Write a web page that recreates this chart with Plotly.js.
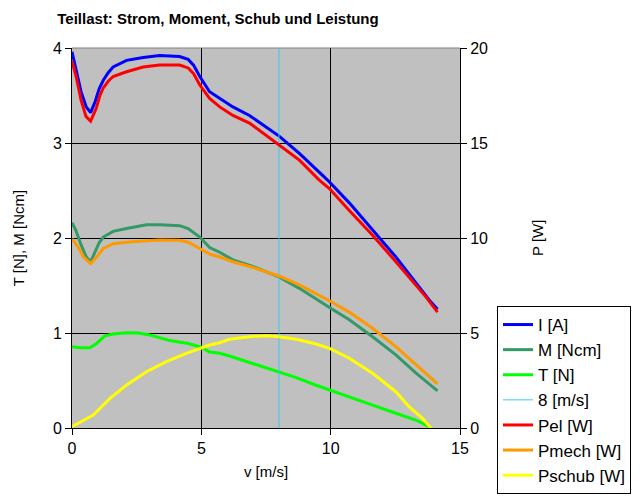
<!DOCTYPE html>
<html>
<head>
<meta charset="utf-8">
<script src="https://cdn.plot.ly/plotly-3.0.1.min.js"></script>
<style>html,body{margin:0;padding:0;background:#fff;}#chart{width:640px;height:498px;}</style>
</head>
<body>
<div id="chart"></div>
<script>
// I [A] (left axis)
const vI = [0, 0.15, 0.35, 0.55, 0.72, 0.9, 1.05, 1.21, 1.4, 1.59, 2.11, 2.75, 3.39, 4.16, 4.49, 4.7, 4.94, 5.32, 5.71, 6.22, 6.86, 7.51, 8.02, 8.79, 9.88, 10.72, 11.62, 12.52, 13.8, 14.13];
const I_A = [3.96, 3.78, 3.54, 3.38, 3.32, 3.44, 3.57, 3.66, 3.74, 3.80, 3.87, 3.90, 3.92, 3.91, 3.88, 3.82, 3.70, 3.54, 3.47, 3.38, 3.29, 3.17, 3.07, 2.89, 2.61, 2.37, 2.08, 1.80, 1.35, 1.25];

// M [Ncm] (left axis)
const vM = [0, 0.15, 0.35, 0.55, 0.72, 0.9, 1.05, 1.21, 1.59, 2.11, 2.88, 3.39, 4.16, 4.49, 4.94, 5.32, 5.71, 6.22, 6.99, 8.0, 8.79, 10.0, 10.72, 11.62, 12.52, 13.29, 14.13];
const M_Ncm = [2.16, 2.08, 1.93, 1.80, 1.75, 1.85, 1.95, 2.01, 2.07, 2.10, 2.14, 2.14, 2.13, 2.10, 2.01, 1.90, 1.85, 1.77, 1.70, 1.59, 1.47, 1.26, 1.14, 0.96, 0.77, 0.58, 0.39];

// T [N] (left axis)
const vT = [0, 0.3, 0.69, 0.95, 1.27, 1.59, 2.11, 2.56, 3.01, 3.78, 4.49, 5.0, 5.32, 5.71, 6.09, 6.86, 7.51, 8.0, 8.67, 9.44, 9.98, 10.72, 11.62, 12.52, 13.29, 13.8];
const T_N = [0.856, 0.845, 0.845, 0.89, 0.97, 0.99, 1.003, 1.0, 0.98, 0.92, 0.89, 0.85, 0.80, 0.786, 0.758, 0.69, 0.64, 0.59, 0.53, 0.45, 0.40, 0.33, 0.24, 0.155, 0.084, 0.014];

// 8 [m/s] marker line
const v8 = [8, 8];
const y8 = [0, 4];

// Pel [W] (right axis)
const vPel = [0, 0.16, 0.35, 0.54, 0.72, 0.93, 1.08, 1.21, 1.4, 1.59, 2.11, 2.75, 3.39, 4.16, 4.49, 4.7, 4.94, 5.32, 5.71, 6.22, 6.86, 8.02, 8.79, 9.56, 9.95, 10.72, 11.62, 12.52, 13.68, 14.13];
const Pel_W = [19.3, 18.5, 17.25, 16.4, 16.15, 16.8, 17.5, 17.9, 18.25, 18.5, 18.75, 19.0, 19.1, 19.1, 18.95, 18.65, 18.05, 17.35, 16.9, 16.45, 16.05, 14.9, 14.1, 13.05, 12.6, 11.45, 10.15, 8.75, 6.9, 6.1];

// Pmech [W] (right axis)
const vPmech = [0, 0.2, 0.45, 0.72, 0.95, 1.21, 1.59, 2.11, 2.88, 3.39, 4.16, 4.49, 4.94, 5.32, 5.71, 6.22, 6.99, 8.0, 8.79, 9.95, 10.72, 11.62, 12.52, 13.29, 14.13];
const Pmech_W = [9.95, 9.6, 9.0, 8.65, 9.0, 9.45, 9.7, 9.78, 9.85, 9.9, 9.88, 9.78, 9.45, 9.15, 9.0, 8.75, 8.45, 8.0, 7.53, 6.7, 6.1, 5.25, 4.28, 3.32, 2.32];

// Pschub [W] (right axis)
const vPschub = [0, 0.82, 1.47, 2.11, 2.88, 3.65, 4.42, 5.0, 5.32, 5.71, 6.09, 6.86, 7.51, 8.0, 8.67, 9.44, 9.98, 10.72, 11.62, 12.52, 13.03, 13.55, 13.87];
const Pschub_W = [0.07, 0.68, 1.56, 2.26, 2.96, 3.49, 3.93, 4.23, 4.37, 4.49, 4.67, 4.8, 4.86, 4.8, 4.67, 4.42, 4.18, 3.67, 2.88, 1.91, 1.12, 0.51, 0.0];

const leftTicks = [0, 1, 2, 3, 4];
const rightTicks = [0, 5, 10, 15, 20];
const xTicks = [0, 5, 10, 15];

const font = "Arial, 'Liberation Sans', sans-serif";

function tr(name, x, y, color, width, axis, grp) {
  return {type: 'scatter', mode: 'lines', name: name, x: x, y: y, yaxis: axis,
    line: {color: color, width: width}, legendgroup: grp, hoverinfo: 'skip'};
}

const data = [
  tr('I [A]', vI, I_A, '#0000FF', 3, 'y', 'g1'),
  tr('M [Ncm]', vM, M_Ncm, '#339966', 3, 'y', 'g2'),
  tr('T [N]', vT, T_N, '#00FF00', 3, 'y', 'g3'),
  tr('8 [m/s]', v8, y8, '#33CCEE', 1, 'y', 'g4'),
  tr('Pel [W]', vPel, Pel_W, '#FF0000', 3, 'y2', 'g5'),
  tr('Pmech [W]', vPmech, Pmech_W, '#FF9900', 3, 'y2', 'g6'),
  tr('Pschub [W]', vPschub, Pschub_W, '#FFFF00', 3, 'y2', 'g7')
];

const layout = {
  width: 640, height: 498,
  margin: {l: 72, r: 180, t: 48, b: 70},
  paper_bgcolor: '#FFFFFF',
  plot_bgcolor: '#C0C0C0',
  font: {family: font, size: 16, color: '#000'},
  showlegend: true,
  title: {text: 'Teillast: Strom, Moment, Schub und Leistung',
    font: {family: font, size: 15, weight: 'bold', color: '#000'},
    x: (218 - 72) / 388, xref: 'paper', xanchor: 'center',
    y: 1 - 19 / 498, yref: 'container', yanchor: 'middle'},
  xaxis: {range: [0, 15], tickvals: xTicks, ticktext: xTicks.map(String),
    ticks: 'outside', ticklen: 6, tickcolor: '#000', showline: true, linecolor: '#000', linewidth: 1,
    showgrid: true, gridcolor: '#000', gridwidth: 1, zeroline: false,
    title: {text: 'v [m/s]', font: {size: 15}, standoff: 10},
    tickfont: {size: 16}},
  yaxis: {range: [0, 4], tickvals: leftTicks, ticktext: leftTicks.map(String),
    ticks: 'outside', ticklen: 6, tickcolor: '#000', showline: true, linecolor: '#000', linewidth: 1,
    showgrid: true, gridcolor: '#000', gridwidth: 1, zeroline: false,
    title: {text: 'T [N], M [Ncm]', font: {size: 15}, standoff: 24},
    tickfont: {size: 16}},
  yaxis2: {range: [0, 20], overlaying: 'y', side: 'right', tickvals: rightTicks, ticktext: rightTicks.map(String),
    ticks: 'outside', ticklen: 6, tickcolor: '#000', showline: true, linecolor: '#000', linewidth: 1,
    showgrid: false, zeroline: false,
    tickfont: {size: 16}},
  annotations: [
    {text: 'P [W]', xref: 'paper', yref: 'paper', x: (537 - 72) / 388, y: 0.5,
      xanchor: 'center', yanchor: 'middle', textangle: -90, showarrow: false,
      font: {family: font, size: 15, color: '#000'}}
  ],
  legend: {x: 497 / 640, xref: 'container', xanchor: 'left', y: 4 / 498, yref: 'container', yanchor: 'bottom',
    bgcolor: '#FFFFFF', bordercolor: '#000', borderwidth: 1,
    font: {family: font, size: 17, color: '#000'},
    tracegroupgap: 4, traceorder: 'normal'},
  shapes: [
    {type: 'line', xref: 'paper', yref: 'paper', x0: 0, x1: 1, y0: 1, y1: 1,
      line: {color: '#808080', width: 1}, layer: 'between'}
  ]
};

Plotly.newPlot('chart', data, layout, {displayModeBar: false, staticPlot: true});
</script>
</body>
</html>
